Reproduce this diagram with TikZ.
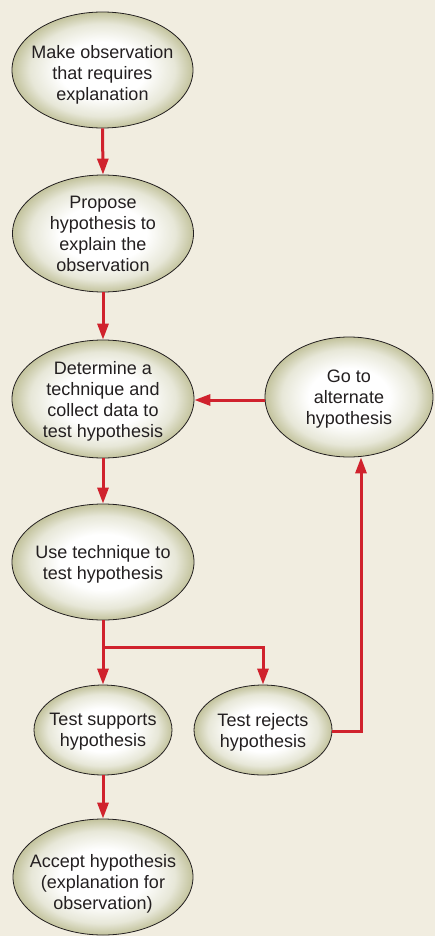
\documentclass[tikz,border=0pt]{standalone}
\usepackage{fontspec}
\setmainfont{Liberation Sans}
\usetikzlibrary{shapes.geometric,arrows.meta}
\definecolor{paper}{HTML}{F1EDE0}
\definecolor{khaki}{HTML}{C3C39D}
\definecolor{flowred}{HTML}{D0222D}
\definecolor{ink}{HTML}{231F20}
% soft white centre fading to khaki at the rim
\pgfdeclareradialshading{bubbleshade}{\pgfpoint{0bp}{0bp}}{%
  color(0bp)=(white); color(12bp)=(white); color(20bp)=(khaki!40!white);
  color(25bp)=(khaki); color(50bp)=(khaki)}
\newcommand{\lowerfirst}[1]{\rule{0pt}{#1}}
\begin{document}
\begin{tikzpicture}[x=1pt,y=-1pt,
  bubble/.style={ellipse, draw=ink, line width=0.8pt,
    inner xsep=-45pt, inner ysep=-40pt, text depth=0pt,
    shading=bubbleshade,
    align=center, text=ink, font=\fontsize{18}{21}\selectfont},
  flow/.style={draw=flowred, line width=3pt,
    -{Triangle[length=16pt,width=11pt]}},
  link/.style={draw=flowred, line width=3pt}]
  % page
  \fill[paper] (0,0) rectangle (435,936);
  \useasboundingbox (0,0) rectangle (435,936);

  % steps of the method
  \node[bubble, minimum width=181, minimum height=116] (obs) at (102.5,70)
    {\lowerfirst{20pt}Make observation\\that requires\\explanation};
  \node[bubble, minimum width=181, minimum height=117] (prop) at (103,233.5)
    {Propose\\hypothesis to\\explain the\\observation};
  \node[bubble, minimum width=182, minimum height=118] (det) at (103,399)
    {Determine a\\technique and\\collect data to\\test hypothesis};
  \node[bubble, minimum width=168, minimum height=120] (alt) at (349,397)
    {Go to\\alternate\\hypothesis};
  \node[bubble, minimum width=182, minimum height=116] (use) at (103,562)
    {Use technique to\\test hypothesis};
  \node[bubble, minimum width=138, minimum height=90] (sup) at (103,730)
    {Test supports\\hypothesis};
  \node[bubble, minimum width=138, minimum height=90] (rej) at (263,730)
    {Test rejects\\hypothesis};
  \node[bubble, minimum width=180, minimum height=116] (acc) at (103,877)
    {\lowerfirst{23pt}Accept hypothesis\\(explanation for\\observation)};

  % branch points
  \coordinate (split) at (103,647);
  \coordinate (turn) at (361,731);

  % connectors
  \draw[flow] (obs.south) -- (prop.north);
  \draw[flow] (prop.south) -- (det.north);
  \draw[flow] (det.south) -- (use.north);
  \draw[flow] (alt.west |- 0,400) -- (det.east |- 0,400);
  \draw[link] (use.south) -- (split);
  \draw[flow] (split) -- (sup.north);
  \draw[flow] (split) -| (rej.north);
  \draw[flow] (rej.east |- turn) -- (turn) -- (turn |- alt.south);
  \draw[flow] (sup.south) -- (acc.north);
\end{tikzpicture}
\end{document}
